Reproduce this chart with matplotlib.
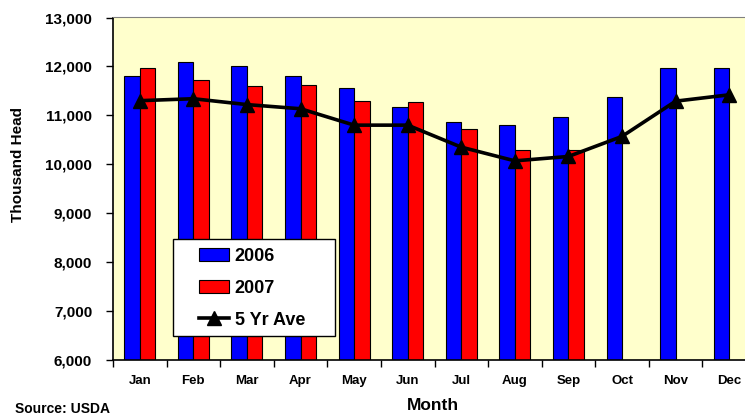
import matplotlib.pyplot as plt
from matplotlib.patches import Rectangle
import numpy as np

plt.rcParams['font.family'] = ['Liberation Sans', 'DejaVu Sans']
plt.rcParams['font.weight'] = 'bold'

months = ['Jan', 'Feb', 'Mar', 'Apr', 'May', 'Jun', 'Jul', 'Aug', 'Sep', 'Oct', 'Nov', 'Dec']
y2006 = [11800, 12100, 12010, 11800, 11550, 11180, 10860, 10810, 10975, 11380, 11960, 11965]
y2007 = [11965, 11715, 11595, 11630, 11295, 11265, 10730, 10290, 10290]
ave5 = [11300, 11340, 11220, 11135, 10800, 10800, 10350, 10070, 10160, 10570, 11290, 11420]
yticks = [6000, 7000, 8000, 9000, 10000, 11000, 12000, 13000]

fig = plt.figure(figsize=(7.45, 4.15), dpi=100)
ax = fig.add_axes([113 / 745, 55 / 415, 643 / 745, 342.5 / 415])
ax.set_facecolor('#FFFFCC')

x = np.arange(len(months))
w = 0.29
b1 = ax.bar(x[:len(y2006)] - w / 2, y2006, w, color='#0000FF', edgecolor='black', linewidth=0.8, label='2006', zorder=2)
b2 = ax.bar(x[:len(y2007)] + w / 2, y2007, w, color='#FF0000', edgecolor='black', linewidth=0.8, label='2007', zorder=2)
l1, = ax.plot(x, ave5, color='black', linewidth=2.6, marker='^', markersize=10, label='5 Yr Ave', zorder=3)

ax.set_xlim(-0.5, 11.5)
ax.set_ylim(6000, 13000)
ax.set_yticks(yticks)
ax.set_yticklabels(['{:,}'.format(v) for v in yticks], fontsize=11, fontweight='bold')
ax.set_xticks(x)
ax.set_xticklabels(months, fontsize=9.5, fontweight='bold')
ax.set_xticks(np.arange(-0.5, 12, 1), minor=True)
ax.tick_params(axis='x', which='major', length=0, pad=11)
ax.tick_params(axis='x', which='minor', length=5, width=1, direction='out')
ax.tick_params(axis='y', length=5, width=1, direction='out', pad=10)

ax.spines['top'].set_color('#808080')
ax.spines['right'].set_visible(False)
ax.spines['left'].set_linewidth(1.2)
ax.spines['bottom'].set_linewidth(1.2)

fig.text(18 / 745, 1 - 164 / 415, 'Thousand Head', fontsize=11, fontweight='bold',
         rotation=90, ha='center', va='center')
fig.text(407 / 745, 2 / 415, 'Month', fontsize=12.5, fontweight='bold', ha='left', va='bottom')
fig.text(15 / 745, 1 - 413 / 415, 'Source: USDA', fontsize=10, fontweight='bold', ha='left', va='baseline')

# legend box drawn separately so the side padding can be wider than the top/bottom
box = Rectangle((173 / 745, 1 - 336 / 415), 162 / 745, 97 / 415, transform=fig.transFigure,
                facecolor='white', edgecolor='black', linewidth=1.0, zorder=4)
fig.patches.append(box)
leg = fig.legend([b1, b2, l1], ['2006', '2007', '5 Yr Ave'], loc='upper left',
                 bbox_to_anchor=(199 / 745, 1 - 248 / 415), frameon=False,
                 prop={'size': 13, 'weight': 'bold'},
                 handlelength=1.67, handleheight=0.72, labelspacing=0.82,
                 borderpad=0, handletextpad=0.3, borderaxespad=0)
leg.set_zorder(5)

fig.savefig('out.png', dpi=100)
